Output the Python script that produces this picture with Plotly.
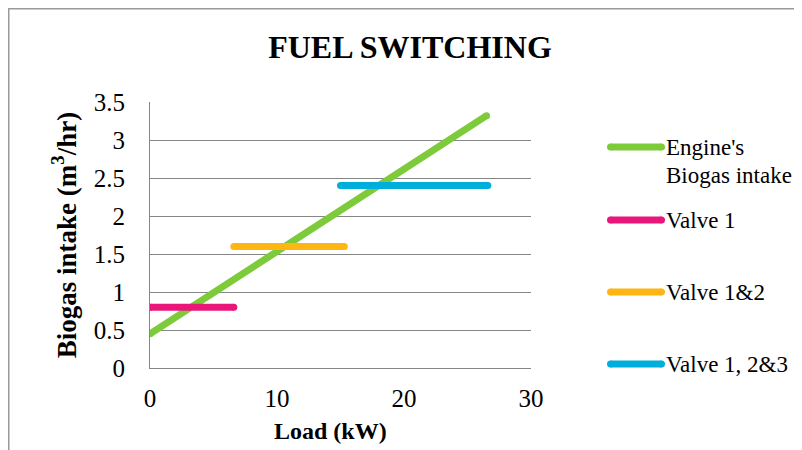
import plotly.graph_objects as go

# ---- data ----
engine_load = [0, 26.5]
engine_intake = [0.45, 3.32]

valve1_load = [0, 6.6]
valve1_intake = [0.8, 0.8]

valve12_load = [6.6, 15.3]
valve12_intake = [1.6, 1.6]

valve123_load = [15.0, 26.6]
valve123_intake = [2.4, 2.4]

series_names = ["Engine's<br>Biogas intake", "Valve 1", "Valve 1&2", "Valve 1, 2&3"]
series_colors = ["#7DCB3A", "#E9177A", "#FFB612", "#00AEDC"]

x_ticks = [0, 10, 20, 30]
y_ticks = [0, 0.5, 1, 1.5, 2, 2.5, 3, 3.5]
y_tick_text = ["0", "0.5", "1", "1.5", "2", "2.5", "3", "3.5"]

FONT = "Liberation Serif, Times New Roman, serif"
W, H = 802, 450
OFF = 8  # page body margin offset of the figure inside the window
L, R, T, B = 150 - OFF, W - (531 - OFF), 102 - OFF, H - (368 - OFF)
PW, PH = W - L - R, H - T - B
LW = 7

fig = go.Figure()
series = [
    (engine_load, engine_intake),
    (valve1_load, valve1_intake),
    (valve12_load, valve12_intake),
    (valve123_load, valve123_intake),
]
for (xs, ys), name, col in zip(series, series_names, series_colors):
    fig.add_trace(go.Scatter(x=xs, y=ys, mode="lines+markers", name=name,
                             line=dict(color=col, width=LW),
                             marker=dict(color=col, size=LW, line=dict(width=0)),
                             showlegend=False, cliponaxis=True))

def px_x(px):
    return (px - OFF - L) / PW

def px_y(py):
    return (H - B - (py - OFF)) / PH

# manual legend
legend_rows = [147, 220, 292, 364]
shapes = []
annotations = []
for row, name, col in zip(legend_rows, series_names, series_colors):
    x0, x1 = px_x(610.5), px_x(661.5)
    yv = px_y(row)
    shapes.append(dict(type="line", xref="paper", yref="paper",
                       x0=x0, x1=x1, y0=yv, y1=yv,
                       line=dict(color=col, width=LW)))
    for xc in (x0, x1):
        shapes.append(dict(type="circle", xref="paper", yref="paper",
                           xsizemode="pixel", ysizemode="pixel",
                           xanchor=xc, yanchor=yv,
                           x0=-LW / 2, x1=LW / 2, y0=-LW / 2, y1=LW / 2,
                           fillcolor=col, line=dict(width=0)))
    parts = name.split("<br>")
    for i, p in enumerate(parts):
        annotations.append(dict(text=p, xref="paper", yref="paper",
                                x=px_x(665), y=px_y(row + 28 * i),
                                xanchor="left", yanchor="middle", showarrow=False,
                                borderpad=0,
                                font=dict(family=FONT, size=23, color="#000")))

# x axis title (placed slightly left of plot centre as in the reference)
annotations.append(dict(text="<b>Load (kW)</b>", xref="paper", yref="paper",
                        x=px_x(330), y=px_y(431), xanchor="center", yanchor="middle",
                        showarrow=False, borderpad=0,
                        font=dict(family=FONT, size=24, color="#000")))

# outer chart border (top and left visible)
shapes.append(dict(type="rect", xref="paper", yref="paper",
                   x0=px_x(OFF + 0.75), x1=px_x(W + 40), y0=px_y(H + 40), y1=px_y(OFF + 0.75),
                   line=dict(color="#9A9A9A", width=1.5), layer="below"))

fig.update_layout(
    width=W, height=H,
    margin=dict(l=L, r=R, t=T, b=B),
    paper_bgcolor="white", plot_bgcolor="white",
    title=dict(text="<b>FUEL SWITCHING</b>", x=(410 - OFF) / W, xref="container", xanchor="center",
               y=1 - (47 - OFF) / H, yref="container", yanchor="middle",
               font=dict(family=FONT, size=32, color="#000")),
    font=dict(family=FONT, color="#000"),
    shapes=shapes,
    annotations=annotations,
    showlegend=False,
)
fig.update_xaxes(range=[0, 30], tickvals=x_ticks, showgrid=False, zeroline=False,
                 showline=True, linecolor="#868686", linewidth=1,
                 ticks="", ticklabelstandoff=8,
                 tickfont=dict(family=FONT, size=25, color="#000"))
fig.update_yaxes(range=[0, 3.5], tickvals=y_ticks, ticktext=y_tick_text,
                 showgrid=True, gridcolor="#868686", gridwidth=1, zeroline=False,
                 showline=True, linecolor="#868686", linewidth=1,
                 ticks="", ticklabelstandoff=19,
                 tickfont=dict(family=FONT, size=25, color="#000"),
                 title=dict(text="<b>Biogas intake (m<sup>3</sup>/hr)</b>", standoff=9,
                            font=dict(family=FONT, size=27, color="#000")))

fig.write_html("out.html")
